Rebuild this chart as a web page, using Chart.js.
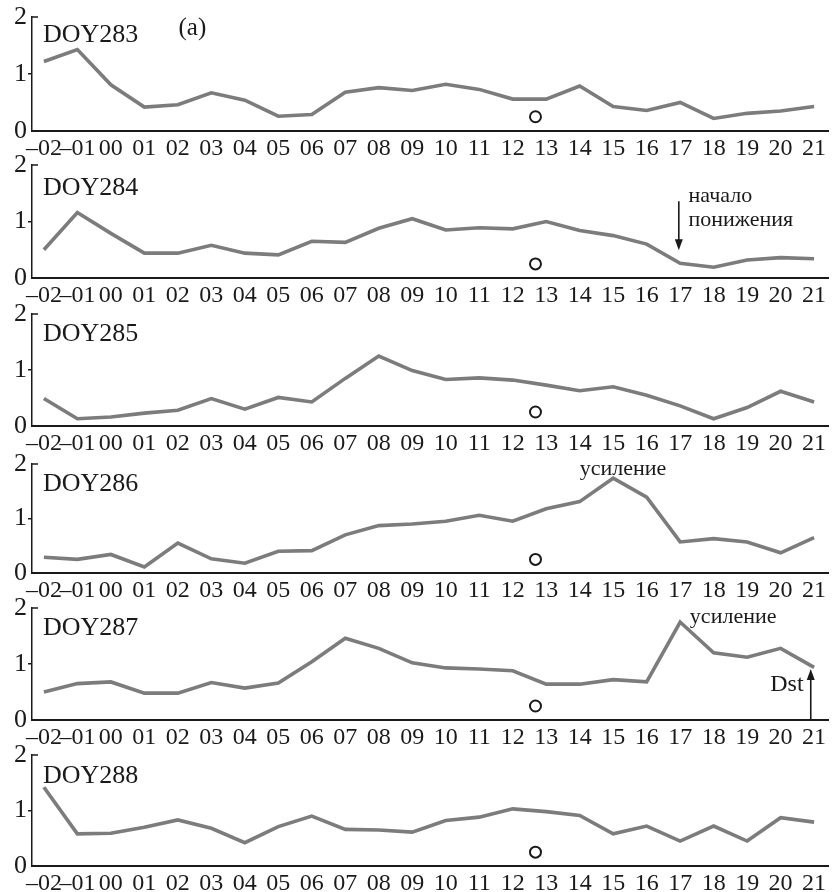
<!DOCTYPE html>
<html>
<head>
<meta charset="utf-8">
<script src="https://cdn.jsdelivr.net/npm/chart.js@4.4.1/dist/chart.umd.min.js"></script>
<style>
  html, body { margin: 0; padding: 0; background: #fff; overflow: hidden; }
  #wrap { position: relative; width: 836px; height: 892px; }
  #wrap canvas { position: absolute; left: 0; }
</style>
</head>
<body>
<div id="wrap"></div>
<script>
// Hours of the day (UT), from 22 h of the previous day to 21 h
const HOURS = [-2, -1, 0, 1, 2, 3, 4, 5, 6, 7, 8, 9, 10, 11, 12, 13, 14, 15, 16, 17, 18, 19, 20, 21];
const HOUR_LABELS = ['\u201302', '\u201301', '00', '01', '02', '03', '04', '05', '06', '07', '08', '09',
                     '10', '11', '12', '13', '14', '15', '16', '17', '18', '19', '20', '21'];
const Y_TICKS = [0, 1, 2];

// Hourly values for each day
const DOY283 = [1.22, 1.43, 0.81, 0.42, 0.46, 0.67, 0.54, 0.26, 0.29, 0.68, 0.76, 0.71, 0.82, 0.73, 0.56, 0.56, 0.79, 0.43, 0.36, 0.50, 0.22, 0.31, 0.35, 0.43];
const DOY284 = [0.50, 1.16, 0.79, 0.44, 0.44, 0.58, 0.44, 0.41, 0.65, 0.63, 0.88, 1.05, 0.85, 0.89, 0.87, 1.00, 0.84, 0.75, 0.60, 0.26, 0.19, 0.32, 0.36, 0.34];
const DOY285 = [0.49, 0.13, 0.16, 0.23, 0.28, 0.49, 0.30, 0.51, 0.43, 0.85, 1.25, 0.99, 0.83, 0.86, 0.82, 0.73, 0.63, 0.70, 0.55, 0.36, 0.13, 0.33, 0.62, 0.43];
const DOY286 = [0.29, 0.25, 0.34, 0.11, 0.55, 0.26, 0.18, 0.40, 0.41, 0.70, 0.87, 0.90, 0.95, 1.06, 0.95, 1.18, 1.31, 1.74, 1.39, 0.57, 0.63, 0.57, 0.37, 0.65];
const DOY287 = [0.50, 0.65, 0.68, 0.48, 0.48, 0.67, 0.57, 0.66, 1.04, 1.46, 1.28, 1.02, 0.93, 0.91, 0.88, 0.64, 0.64, 0.72, 0.68, 1.75, 1.20, 1.12, 1.28, 0.94];
const DOY288 = [1.42, 0.58, 0.59, 0.70, 0.83, 0.68, 0.42, 0.71, 0.90, 0.66, 0.65, 0.61, 0.82, 0.88, 1.03, 0.98, 0.91, 0.58, 0.72, 0.45, 0.72, 0.45, 0.87, 0.79];

// Reference point drawn as an open circle in every panel
const MARK_HOUR = 12.68;
const MARK_VALUE = 0.25;

const FONT = '"Liberation Serif", "Times New Roman", serif';
const INK = '#1a1a1a';
const LINE_GRAY = '#7c7c7c';

Chart.defaults.font.family = FONT;
Chart.defaults.color = INK;

// Panel layout: canvas offset, plot-area top, label and annotations
const PANELS = [
  { name: 'DOY283', values: DOY283, offset: 0,     areaTop: 17, nameY: 1.57,
    notes: [{ type: 'text', text: '(a)', x: 2.02, y: 1.68, size: 25 }] },
  { name: 'DOY284', values: DOY284, offset: 147.3, areaTop: 18, nameY: 1.47,
    notes: [
      { type: 'text', text: 'начало', x: 17.25, y: 1.35, size: 22 },
      { type: 'text', text: 'понижения', x: 17.25, y: 0.92, size: 22 },
      { type: 'arrow', x: 16.96, from: 1.36, to: 0.49 }
    ] },
  { name: 'DOY285', values: DOY285, offset: 294.7, areaTop: 19, nameY: 1.51, notes: [] },
  { name: 'DOY286', values: DOY286, offset: 441.7, areaTop: 22, nameY: 1.51,
    notes: [{ type: 'text', text: 'усиление', x: 14.0, y: 1.80, size: 22 }] },
  { name: 'DOY287', values: DOY287, offset: 589,   areaTop: 19, nameY: 1.51,
    notes: [
      { type: 'text', text: 'усиление', x: 17.29, y: 1.73, size: 22 },
      { type: 'text', text: 'Dst', x: 19.69, y: 0.52, size: 24 },
      { type: 'arrow', x: 20.9, from: 0, to: 0.91 }
    ] },
  { name: 'DOY288', values: DOY288, offset: 735,   areaTop: 20, nameY: 1.50, notes: [] }
];

const CANVAS_H = 160;
const AREA_BOTTOM = 131;
const AXIS_W = 32;

function notesPlugin(panel) {
  return {
    id: 'panelNotes',
    afterDraw(chart) {
      const ctx = chart.ctx;
      const xs = chart.scales.x, ys = chart.scales.y;
      const area = chart.chartArea;
      ctx.save();
      // short inward tick at the top of the vertical axis
      ctx.strokeStyle = INK;
      ctx.lineWidth = 1.5;
      ctx.beginPath();
      ctx.moveTo(area.left, ys.getPixelForValue(2));
      ctx.lineTo(area.left + 6, ys.getPixelForValue(2));
      ctx.stroke();

      // day label
      ctx.fillStyle = INK;
      ctx.textBaseline = 'alphabetic';
      ctx.textAlign = 'left';
      ctx.font = '26px ' + FONT;
      ctx.fillText(panel.name, xs.getPixelForValue(-2.03), ys.getPixelForValue(panel.nameY));

      panel.notes.forEach(n => {
        if (n.type === 'text') {
          ctx.font = n.size + 'px ' + FONT;
          ctx.fillText(n.text, xs.getPixelForValue(n.x), ys.getPixelForValue(n.y));
        } else if (n.type === 'arrow') {
          const px = xs.getPixelForValue(n.x);
          const y0 = ys.getPixelForValue(n.from);
          const y1 = ys.getPixelForValue(n.to);
          const dir = y1 > y0 ? 1 : -1;
          const head = 11;
          ctx.lineWidth = 1.6;
          ctx.beginPath();
          ctx.moveTo(px, y0);
          ctx.lineTo(px, y1 - dir * head * 0.6);
          ctx.stroke();
          ctx.beginPath();
          ctx.moveTo(px, y1);
          ctx.lineTo(px - 4, y1 - dir * head);
          ctx.lineTo(px + 4, y1 - dir * head);
          ctx.closePath();
          ctx.fill();
        }
      });
      ctx.restore();
    }
  };
}

const wrap = document.getElementById('wrap');

PANELS.forEach(panel => {
  const canvas = document.createElement('canvas');
  canvas.width = 836;
  canvas.height = CANVAS_H;
  canvas.style.width = '836px';
  canvas.style.height = CANVAS_H + 'px';
  canvas.style.top = panel.offset + 'px';
  wrap.appendChild(canvas);

  new Chart(canvas, {
    type: 'line',
    data: {
      datasets: [
        {
          data: HOURS.map((h, i) => ({ x: h, y: panel.values[i] })),
          borderColor: LINE_GRAY,
          borderWidth: 3.6,
          pointRadius: 0,
          tension: 0,
          fill: false,
          clip: false
        },
        {
          data: [{ x: MARK_HOUR, y: MARK_VALUE }],
          showLine: false,
          pointStyle: 'circle',
          pointRadius: 5.5,
          pointBorderWidth: 2,
          pointBorderColor: INK,
          pointBackgroundColor: '#fff'
        }
      ]
    },
    options: {
      responsive: false,
      animation: false,
      events: [],
      layout: { padding: { top: panel.areaTop, left: 0, right: 0, bottom: 0 } },
      plugins: { legend: { display: false }, tooltip: { enabled: false } },
      scales: {
        x: {
          type: 'linear',
          min: -2.355,
          max: 21.43,
          afterBuildTicks: s => { s.ticks = HOURS.map(v => ({ value: v })); },
          afterFit: s => { s.height = CANVAS_H - AREA_BOTTOM; s.paddingLeft = 0; s.paddingRight = 0; },
          ticks: {
            autoSkip: false,
            maxRotation: 0,
            padding: 3,
            font: { size: 24, family: FONT },
            color: INK,
            callback: (v, i) => HOUR_LABELS[i]
          },
          grid: { display: true, drawOnChartArea: false, drawTicks: false, color: 'rgba(0,0,0,0)' },
          border: { display: true, color: INK, width: 2 }
        },
        y: {
          type: 'linear',
          min: 0,
          max: 2,
          afterBuildTicks: s => { s.ticks = Y_TICKS.map(v => ({ value: v })); },
          afterFit: s => { s.width = AXIS_W; s.paddingTop = 0; s.paddingBottom = 0; },
          ticks: {
            padding: 1,
            font: { size: 26, family: FONT },
            color: INK,
            callback: v => String(v)
          },
          grid: {
            drawOnChartArea: false,
            drawTicks: true,
            tickLength: 4,
            lineWidth: 1.5,
            color: c => (c.tick && c.tick.value === 1) ? INK : 'rgba(0,0,0,0)'
          },
          border: { display: true, color: INK, width: 1.5 }
        }
      }
    },
    plugins: [notesPlugin(panel)]
  });
});
</script>
</body>
</html>
